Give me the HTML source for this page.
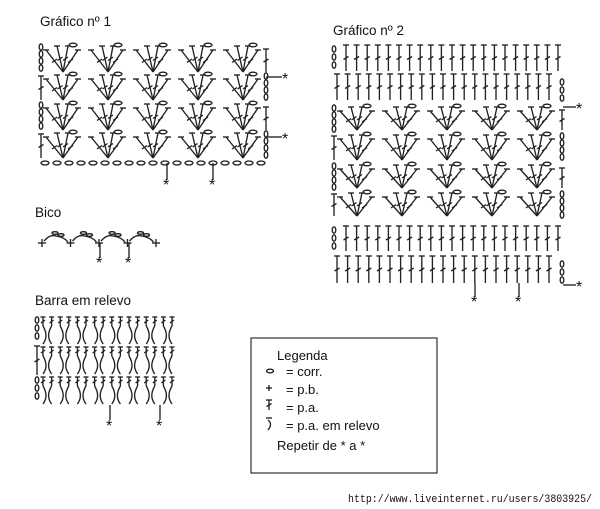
<!DOCTYPE html>
<html><head><meta charset="utf-8"><style>
html,body{margin:0;padding:0;background:#fff;width:600px;height:509px;overflow:hidden}
svg{position:absolute;left:0;top:0}
text{font-family:"Liberation Sans",sans-serif;fill:#111}
</style></head><body>
<svg id="s" width="600" height="509" viewBox="0 0 600 509" xmlns="http://www.w3.org/2000/svg">
<g stroke="#222" stroke-width="1.35" fill="none" id="g"></g>
<text x="40" y="26" font-size="13.5">Gráfico nº 1</text>
<text x="333" y="35" font-size="13.5">Gráfico nº 2</text>
<text x="35" y="217" font-size="13.5">Bico</text>
<text x="35" y="305" font-size="13.5">Barra em relevo</text>
<rect x="251" y="338" width="186" height="135" fill="none" stroke="#333" stroke-width="1.2"/>
<text x="277" y="360" font-size="13">Legenda</text>
<text x="286" y="376" font-size="13">= corr.</text>
<text x="286" y="394" font-size="13">= p.b.</text>
<text x="286" y="412" font-size="13">= p.a.</text>
<text x="286" y="430" font-size="13">= p.a. em relevo</text>
<text x="277" y="450" font-size="13">Repetir de * a *</text>
<text x="348" y="502" font-size="11" textLength="244" lengthAdjust="spacingAndGlyphs" style="font-family:'Liberation Mono',monospace">http://www.liveinternet.ru/users/3803925/</text>
</svg>
<script>
var g=document.getElementById('g'),h='';
function L(a,b,c,d){h+='<line x1="'+a+'" y1="'+b+'" x2="'+c+'" y2="'+d+'"/>';}
function E(x,y,rx,ry){h+='<ellipse cx="'+x+'" cy="'+y+'" rx="'+(rx||3.5)+'" ry="'+(ry||1.8)+'"/>';}
function EV(x,y){E(x,y,1.8,3.2);}
function T(x,y1,y2){L(x,y1,x,y2);L(x-3,y1,x+3,y1);var m=(y1+y2)/2;L(x-2.5,m+1.5,x+2.5,m-1.5);}
function star(x,y){h+='<text x="'+(x-4)+'" y="'+(y+7)+'" font-size="16" stroke="none">*</text>';}
function fan(bx,by,top){
  var tops=[-17,-6,5,15];
  for(var i=0;i<4;i++){var tx=bx+tops[i],ty=top+(i==0||i==3?4:0);
    L(bx,by,tx,ty);L(tx-3,ty,tx+3,ty);
    var mx=(bx+tx)/2,my=(by+ty)/2;L(mx-2.5,my+1.5,mx+2.5,my-2);}
  E(bx+10,top-1,4,1.8);
}
// Grafico 1
var rows1=[[43,72],[72,100],[101,130],[130,158]];
for(var r=0;r<4;r++){var y0=rows1[r][0],y1=rows1[r][1];
  for(var k=0;k<5;k++){fan(63+k*45,y1,y0+3);}
  if(r%2==0){for(var j=0;j<4;j++)EV(41,y0+4+j*7);T(266,y0+6,y1);}
  else{T(41,y0+4,y1);for(var j=0;j<4;j++)EV(266,y0+4+j*7);}
}
for(var i=0;i<19;i++)E(45+i*12,163,4,2);
L(266,77,282,77);star(286,77);L(266,137,282,137);star(286,137);
L(167,163,167,180);star(167,183);L(213,163,213,180);star(213,183);
// Grafico 2
function strow(y0,y1,left){
  for(var i=0;i<21;i++){var x=(left?346:337)+i*10.6;T(x,y0,y1);}
  if(left){for(var j=0;j<3;j++)EV(334,y0+4+j*8);}else{for(var j=0;j<3;j++)EV(562,y0+8+j*8);}
}
strow(45,71,1);strow(74,100,0);strow(226,251,1);strow(256,283,0);
var rows2=[[104,130],[132,160],[162,188],[190,216]];
for(var r=0;r<4;r++){var y0=rows2[r][0],y1=rows2[r][1];
  for(var k=0;k<5;k++){fan(357+k*45,y1,y0+3);}
  if(r%2==0){for(var j=0;j<4;j++)EV(334,y0+4+j*7);T(562,y0+6,y1);}
  else{T(334,y0+4,y1);for(var j=0;j<4;j++)EV(562,y0+4+j*7);}
}
L(563,107,576,107);star(580,107);L(563,285,576,285);star(580,285);
L(475,283,475,297);star(475,300);L(519,283,519,297);star(519,300);
// Bico
for(var i=0;i<5;i++){var x=42+i*28.5;L(x-4,243,x+4,243);L(x,239,x,247);}
for(var i=0;i<4;i++){var x=42+i*28.5;h+='<path d="M'+(x+2)+' 241 Q'+(x+8)+' 234 '+(x+14)+' 236 Q'+(x+22)+' 237 '+(x+26)+' 242"/>';
  E(x+13,233,3,1.3);E(x+19,235,3,1.3);}
L(100,243,100,258);star(100,261);L(129,243,129,258);star(129,261);
// Barra em relevo
var brows=[[316,345,1],[346,375,0],[376,405,1]];
for(var r=0;r<3;r++){var y0=brows[r][0],y1=brows[r][1];
  if(brows[r][2]){for(var j=0;j<3;j++)EV(37,y0+4+j*8);}else T(37,y0,y1);
  for(var i=0;i<16;i++){var x=43+i*8.6;
    L(x-2.5,y0+1,x+2.5,y0+1);L(x,y0+1,x,y0+10);L(x-2,y0+7,x+2,y0+4);
    var d=(i%2==0)?1:-1;
    h+='<path d="M'+x+' '+(y0+10)+' Q'+(x+6*d)+' '+(y0+20)+' '+x+' '+(y1-1)+'"/>';}
}
L(110,405,110,420);star(110,424);L(160,405,160,420);star(160,424);
// legend symbols
E(270,371,3.5,1.8);L(266,388,272,388);L(269,385,269,391);
T(269,400,410);L(266,418,272,418);h+='<path d="M268 420 Q273 424 268 430"/>';
g.innerHTML=h;
</script>
</body></html>
